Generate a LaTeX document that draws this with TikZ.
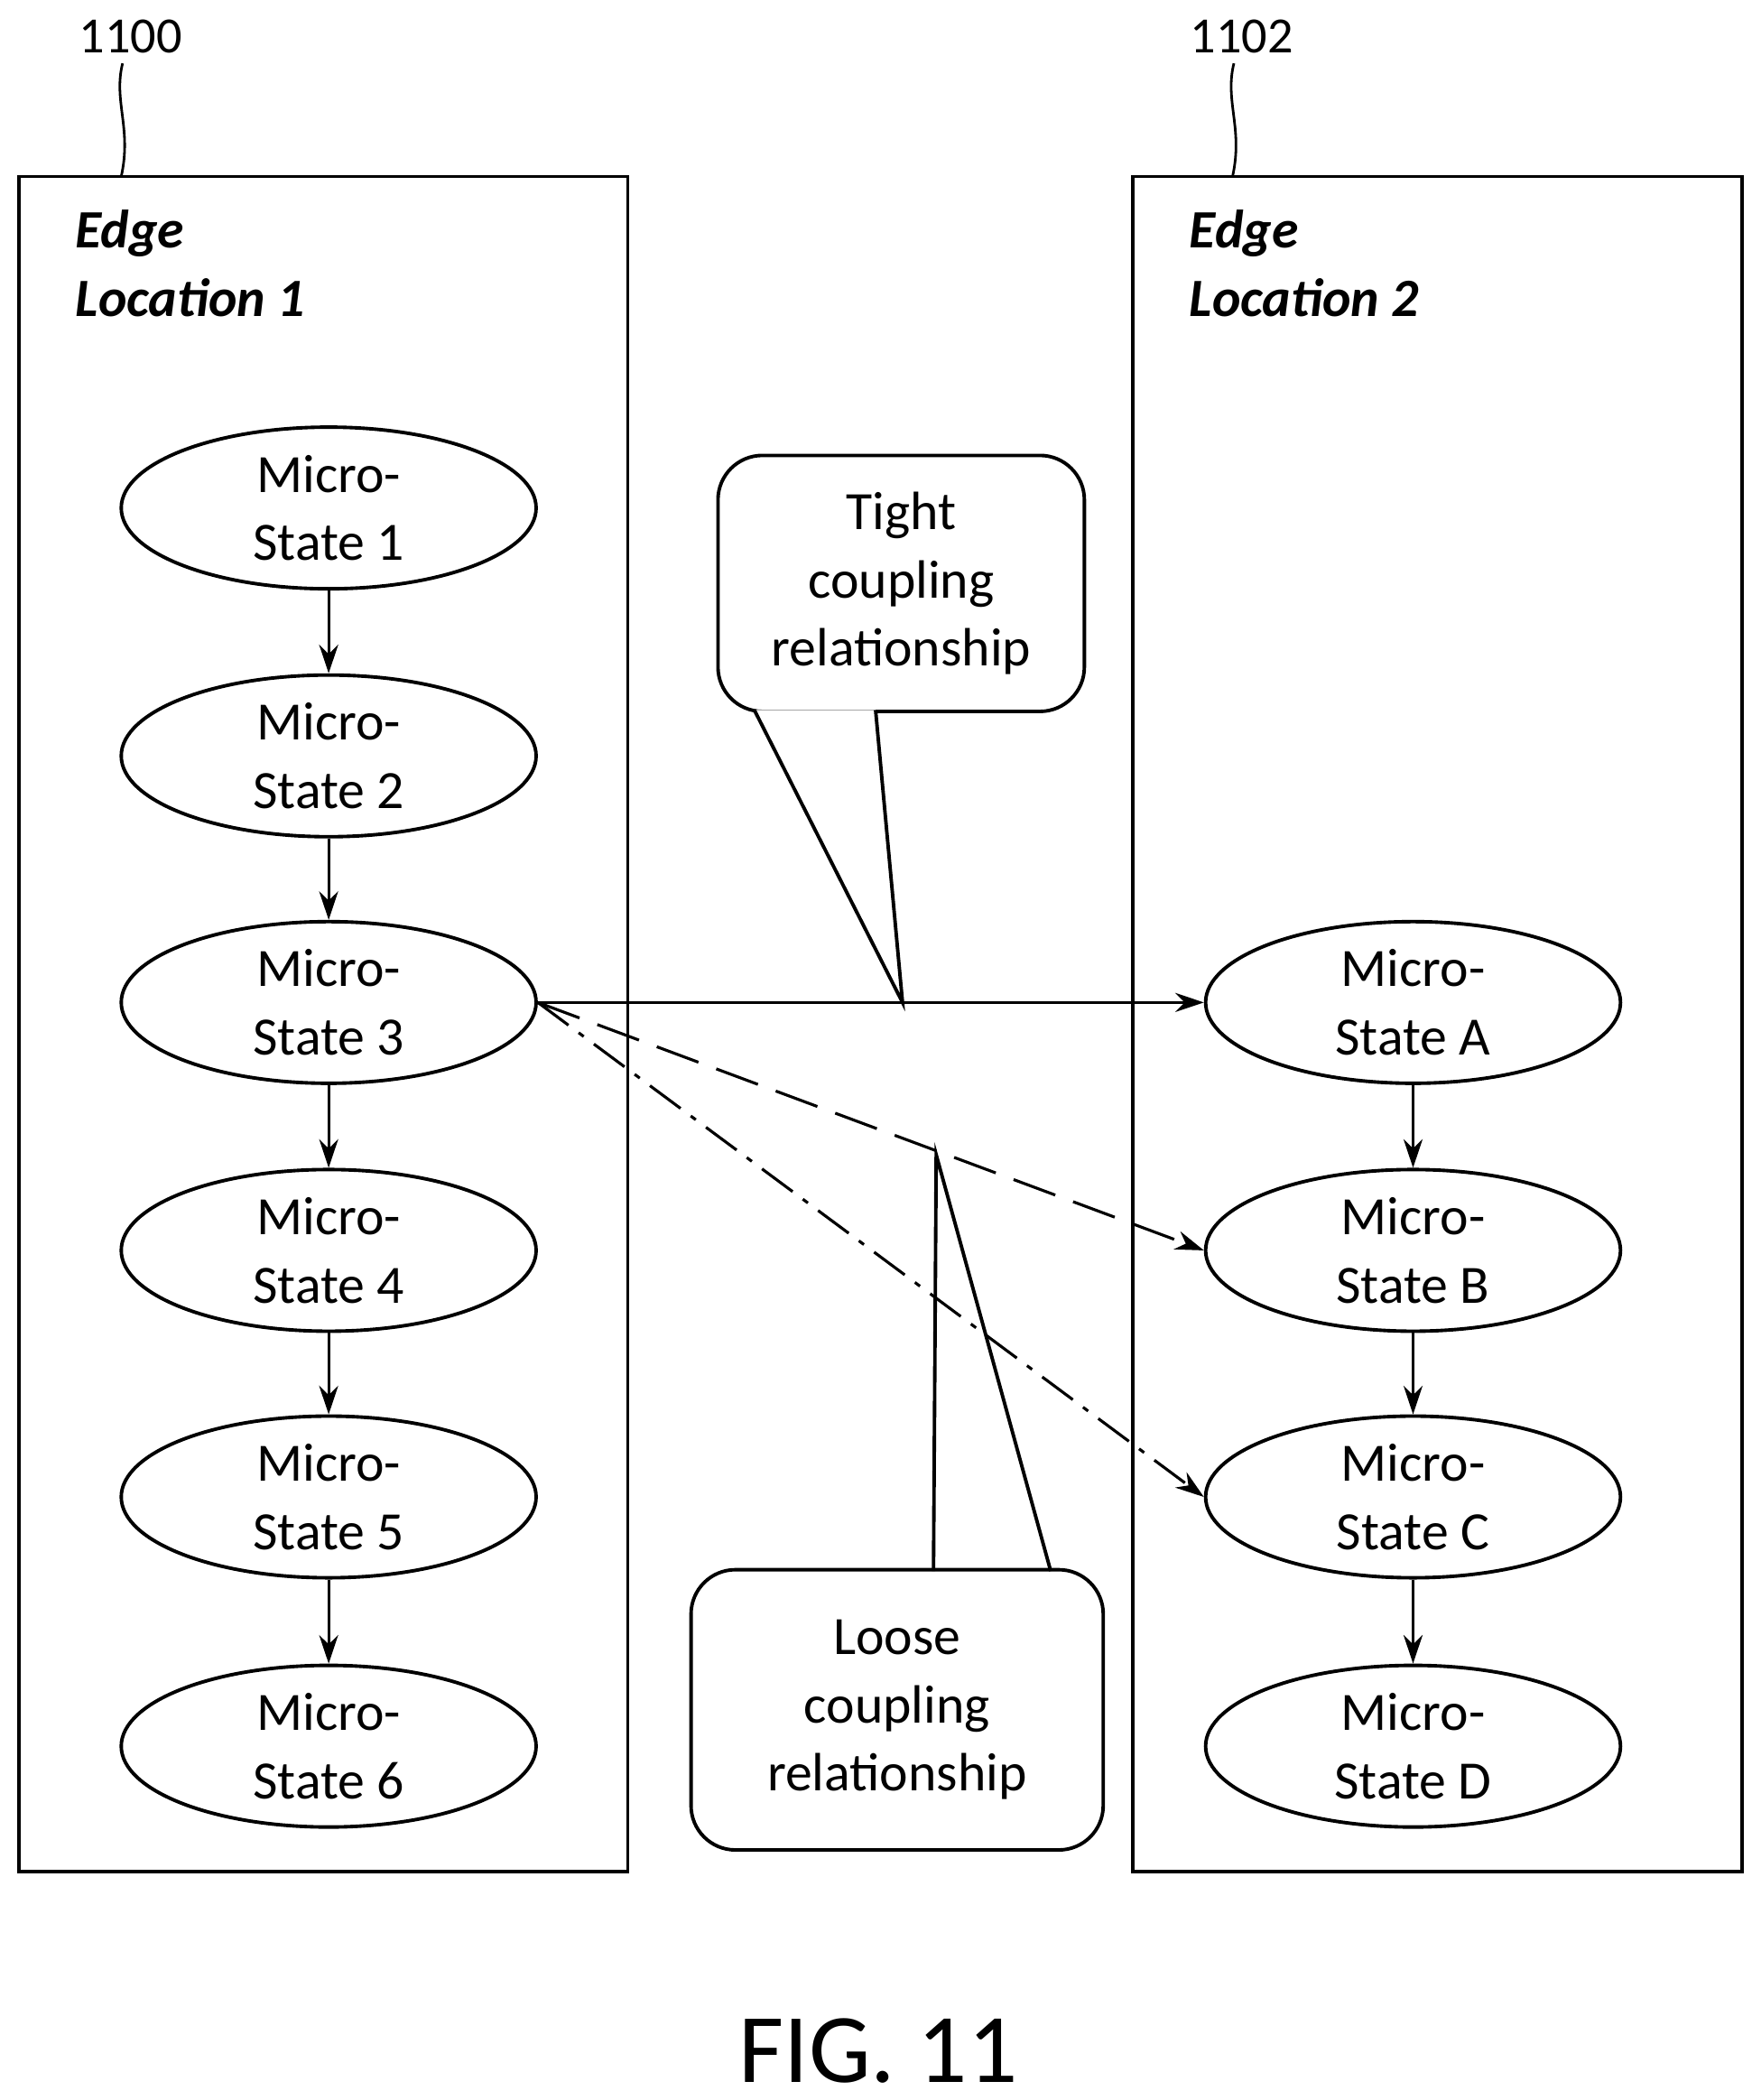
\documentclass[tikz,border=0pt]{standalone}
\usepackage{fontspec}
\setmainfont{Carlito}
\usetikzlibrary{shapes.geometric, arrows.meta, positioning}
\begin{document}
\begin{tikzpicture}[x=0.014923cm, y=-0.014923cm, line width=1.1pt,
    micro/.style={ellipse, draw, minimum width=308*0.014923cm, minimum height=120*0.014923cm, inner sep=0pt, align=center, font=\fontsize{17}{21.5}\selectfont},
    callout/.style={draw, rounded corners=14pt, align=center, font=\fontsize{17}{21.5}\selectfont},
    flow/.style={-{Stealth[length=9pt, width=6pt]}, line width=0.9pt}]
  \useasboundingbox (0,0) rectangle (1300,1558.6);
  % edge location boxes
  \draw (14,131) rectangle (466,1389);
  \draw (841,131) rectangle (1293,1389);
  \node[anchor=north west, align=left, font=\fontsize{17}{21.5}\selectfont\bfseries\itshape] (loc1) at (47,147) {Edge\\Location 1};
  \node[anchor=north west, align=left, font=\fontsize{17}{21.5}\selectfont\bfseries\itshape] (loc2) at (874,147) {Edge\\Location 2};
  \node[font=\fontsize{16}{20}\selectfont] (n1100) at (97,27) {1100};
  \node[font=\fontsize{16}{20}\selectfont] (n1102) at (922,27) {1102};
  \draw[line width=0.8pt] (91,47) .. controls (84,75) and (98,95) .. (90,131);
  \draw[line width=0.8pt] (916,47) .. controls (909,75) and (923,95) .. (915,131);
  % micro-states, location 1
  \node[micro] (s1) at (244,377) {Micro-\\State 1};
  \node[micro] (s2) at (244,561) {Micro-\\State 2};
  \node[micro] (s3) at (244,744) {Micro-\\State 3};
  \node[micro] (s4) at (244,928) {Micro-\\State 4};
  \node[micro] (s5) at (244,1111) {Micro-\\State 5};
  \node[micro] (s6) at (244,1296) {Micro-\\State 6};
  % micro-states, location 2
  \node[micro] (sA) at (1049,744) {Micro-\\State A};
  \node[micro] (sB) at (1049,928) {Micro-\\State B};
  \node[micro] (sC) at (1049,1111) {Micro-\\State C};
  \node[micro] (sD) at (1049,1296) {Micro-\\State D};
  \foreach \a/\b in {s1/s2, s2/s3, s3/s4, s4/s5, s5/s6, sA/sB, sB/sC, sC/sD}
    \draw[flow] (\a) -- (\b);
  % couplings
  \draw[flow] (s3.east) -- (sA.west);
  \draw[flow, dash pattern=on 14pt off 6pt] (s3.east) -- (sB.west);
  \draw[flow, dash pattern=on 12pt off 4pt on 2pt off 4pt] (s3.east) -- (sC.west);
  % callouts
  \node[callout, minimum width=272*0.014923cm, minimum height=190*0.014923cm] (tight) at (669,433) {Tight\\coupling\\relationship};
  \node[callout, minimum width=306*0.014923cm, minimum height=208*0.014923cm] (loose) at (666,1269) {Loose\\coupling\\relationship};
  \coordinate (tip1) at (670,744);
  \coordinate (tip2) at (695,857);
  \draw[fill=white] (560,527) -- (tip1) -- (650,527);
  \draw (693,1166) -- (tip2) -- (780,1166);
  \node[font=\fontsize{31}{37}\selectfont] (fig) at (652,1522) {FIG. 11};
\end{tikzpicture}
\end{document}
